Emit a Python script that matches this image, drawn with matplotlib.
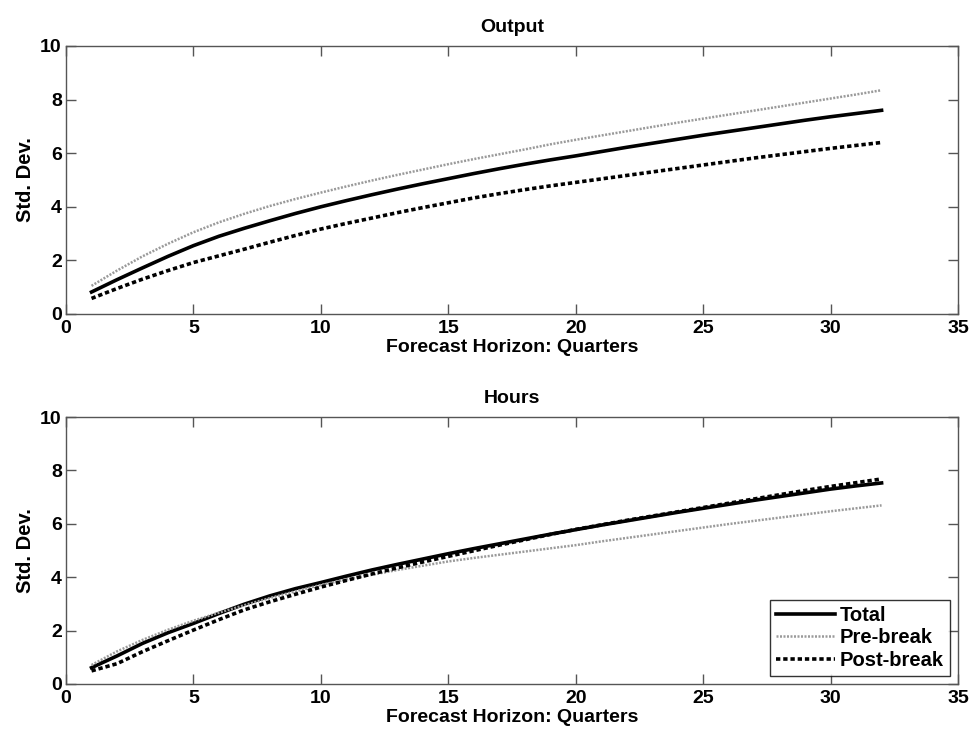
import matplotlib
matplotlib.use("Agg")
import matplotlib.pyplot as plt

plt.rcParams['font.family'] = ['Liberation Sans', 'DejaVu Sans']
plt.rcParams['font.weight'] = 'bold'

horizon = list(range(1, 33))

output_total = [0.82, 1.28, 1.72, 2.15, 2.55, 2.90, 3.20, 3.48, 3.75, 4.00, 4.23, 4.45,
                4.66, 4.86, 5.05, 5.24, 5.42, 5.59, 5.75, 5.90, 6.06, 6.22, 6.37, 6.52,
                6.67, 6.81, 6.95, 7.09, 7.23, 7.36, 7.48, 7.60]
output_pre = [1.05, 1.62, 2.15, 2.62, 3.05, 3.42, 3.74, 4.03, 4.29, 4.53, 4.76, 4.98,
              5.19, 5.39, 5.59, 5.78, 5.96, 6.14, 6.33, 6.50, 6.66, 6.82, 6.98, 7.14,
              7.29, 7.44, 7.59, 7.74, 7.89, 8.04, 8.19, 8.35]
output_post = [0.58, 0.95, 1.30, 1.62, 1.92, 2.17, 2.42, 2.68, 2.93, 3.17, 3.38, 3.58,
               3.78, 3.97, 4.15, 4.33, 4.49, 4.64, 4.78, 4.91, 5.04, 5.17, 5.30, 5.43,
               5.56, 5.69, 5.82, 5.94, 6.06, 6.18, 6.29, 6.40]

hours_total = [0.61, 1.05, 1.52, 1.92, 2.27, 2.64, 2.99, 3.30, 3.57, 3.80, 4.04, 4.27,
               4.48, 4.68, 4.88, 5.07, 5.25, 5.43, 5.61, 5.78, 5.95, 6.11, 6.27, 6.43,
               6.58, 6.73, 6.88, 7.02, 7.16, 7.30, 7.42, 7.53]
hours_pre = [0.71, 1.22, 1.65, 2.03, 2.37, 2.67, 2.95, 3.22, 3.47, 3.71, 3.91, 4.09,
             4.27, 4.43, 4.59, 4.72, 4.84, 4.96, 5.08, 5.20, 5.34, 5.47, 5.60, 5.73,
             5.86, 5.99, 6.11, 6.23, 6.35, 6.47, 6.58, 6.69]
hours_post = [0.49, 0.76, 1.21, 1.62, 2.02, 2.41, 2.78, 3.08, 3.36, 3.63, 3.88, 4.12,
              4.35, 4.57, 4.78, 4.99, 5.20, 5.40, 5.60, 5.79, 5.96, 6.13, 6.29, 6.45,
              6.61, 6.77, 6.93, 7.09, 7.25, 7.40, 7.54, 7.68]

series_labels = ['Total', 'Pre-break', 'Post-break']
panel_titles = ['Output', 'Hours']
x_label = 'Forecast Horizon: Quarters'
y_label = 'Std. Dev.'
x_ticks = [0, 5, 10, 15, 20, 25, 30, 35]
y_ticks = [0, 2, 4, 6, 8, 10]

fig = plt.figure(figsize=(9.74, 7.36), dpi=100)
ax_top = fig.add_axes([0.0678, 0.5734, 0.9158, 0.3641])
ax_bot = fig.add_axes([0.0678, 0.0707, 0.9158, 0.3627])

panels = [
    (ax_top, output_total, output_pre, output_post),
    (ax_bot, hours_total, hours_pre, hours_post),
]

for (ax, tot, pre, post), title in zip(panels, panel_titles):
    ax.plot(horizon, tot, color='black', lw=2.6, ls='-', label=series_labels[0])
    ax.plot(horizon, pre, color='#9a9a9a', lw=1.8, ls=(0, (0.8, 0.6)), label=series_labels[1])
    ax.plot(horizon, post, color='black', lw=2.6, ls=(0, (1.2, 0.8)), label=series_labels[2])
    ax.set_xlim(0, 35)
    ax.set_ylim(0, 10)
    ax.set_xticks(x_ticks)
    ax.set_yticks(y_ticks)
    ax.tick_params(direction='in', length=7, width=1, colors='#555555',
                   labelcolor='black', labelsize=14, top=True, right=True)
    ax.tick_params(axis='x', pad=4)
    ax.tick_params(axis='y', pad=3)
    for lab in ax.get_xticklabels() + ax.get_yticklabels():
        lab.set_fontweight('bold')
    for sp in ax.spines.values():
        sp.set_color('#555555')
        sp.set_linewidth(1)
    ax.set_title(title, fontsize=14, fontweight='bold', pad=10)
    ax.set_xlabel(x_label, fontsize=14, fontweight='bold', labelpad=2)
    ax.set_ylabel(y_label, fontsize=14.5, fontweight='bold', labelpad=4)

leg = ax_bot.legend(loc='lower right', fontsize=14.5, frameon=True, fancybox=False,
                    handlelength=2.9, handletextpad=0.25, borderpad=0.3,
                    labelspacing=0.18, borderaxespad=0.4)
leg.get_frame().set_edgecolor('black')
leg.get_frame().set_linewidth(1)
for t in leg.get_texts():
    t.set_fontweight('bold')

fig.savefig('out.png', dpi=100)
